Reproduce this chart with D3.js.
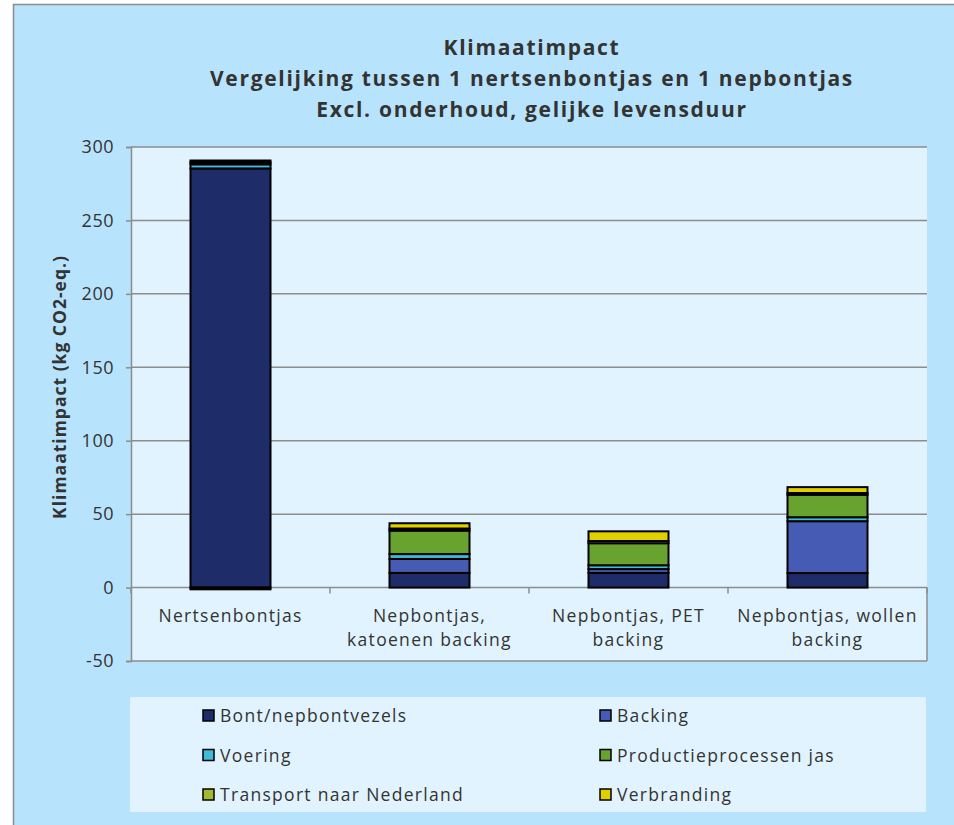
<!DOCTYPE html>
<html>
<head>
<meta charset="utf-8">
<script src="https://cdn.jsdelivr.net/npm/d3@7"></script>
<style>
  body { margin: 0; background: #fff; }
  svg { display: block; }
  text { font-family: "Open Sans", sans-serif; fill: #333; }
</style>
</head>
<body>
<div id="container"></div>
<script>
const width = 954
const height = 825

// data
const categories = [
    ['Nertsenbontjas'],
    ['Nepbontjas,', 'katoenen backing'],
    ['Nepbontjas, PET', 'backing'],
    ['Nepbontjas, wollen', 'backing']
]
const seriesNames = ['Bont/nepbontvezels', 'Backing', 'Voering', 'Productieprocessen jas', 'Transport naar Nederland', 'Verbranding']
const bont        = [285.4, 10, 10, 9.9]
const backing     = [0, 9.5, 2.6, 35.3]
const voering     = [2.8, 3.3, 2.6, 2.7]
const productie   = [1.3, 16, 15, 15.3]
const transport   = [1.3, 1.4, 1.5, 1.2]
const verbranding = [-1.2, 3.6, 6.6, 4]
const yTicks = [-50, 0, 50, 100, 150, 200, 250, 300]
const colors = ['#1f2c6a', '#465cb4', '#40bcd8', '#68a330', '#a5b832', '#e0d000']

const columns = [bont, backing, voering, productie, transport, verbranding]
const rows = categories.map((c, i) => {
    const row = { idx: i }
    seriesNames.forEach((s, j) => { row[s] = columns[j][i] })
    return row
})

const svg = d3.select('#container').append('svg')
    .attr('width', width)
    .attr('height', height)

// outer chart background
svg.append('rect')
    .attr('x', 13.5).attr('y', 4.5)
    .attr('width', width).attr('height', height)
    .attr('fill', '#b8e3fd')
    .attr('stroke', '#8c8c8c')
    .attr('stroke-width', 1.5)

const plot = { left: 131, right: 927, top: 147, bottom: 661 }

//----------------------------SCALES----------------------------//
const x = d3.scaleBand()
    .domain(d3.range(categories.length))
    .range([plot.left, plot.right])
const y = d3.scaleLinear().domain([-50, 300]).range([plot.bottom, plot.top])

svg.append('rect')
    .attr('x', plot.left).attr('y', plot.top)
    .attr('width', plot.right - plot.left).attr('height', plot.bottom - plot.top)
    .attr('fill', '#e1f3fe')

// grid
svg.append('g')
    .selectAll('line')
    .data(yTicks)
    .join('line')
    .attr('x1', plot.left).attr('x2', plot.right)
    .attr('y1', d => y(d)).attr('y2', d => y(d))
    .attr('stroke', '#8c8c8c')
    .attr('stroke-width', 1.5)

//-----------------------------AXES-----------------------------//
const yaxis = d3.axisLeft(y).tickValues(yTicks).tickSize(5).tickPadding(12)
    .tickFormat(d => String(d))
const gy = svg.append('g')
    .attr('transform', `translate(${plot.left},0)`)
    .call(yaxis)
gy.select('.domain').attr('stroke', '#8c8c8c').attr('stroke-width', 1.5)
gy.selectAll('.tick line').attr('stroke', '#8c8c8c').attr('stroke-width', 1.5)
gy.selectAll('.tick text')
    .style('font-size', '18px')
    .style('letter-spacing', '0.5px')
    .attr('font-family', '"Open Sans", sans-serif')
    .attr('fill', '#333')

// right edge below zero, as in the reference
svg.append('line')
    .attr('x1', plot.right).attr('x2', plot.right)
    .attr('y1', y(0)).attr('y2', plot.bottom)
    .attr('stroke', '#8c8c8c').attr('stroke-width', 1.5)

// category separators on the zero line
svg.append('g')
    .selectAll('line')
    .data(d3.range(categories.length + 1))
    .join('line')
    .attr('x1', d => plot.left + d * x.bandwidth())
    .attr('x2', d => plot.left + d * x.bandwidth())
    .attr('y1', y(0)).attr('y2', y(0) + 6)
    .attr('stroke', '#8c8c8c').attr('stroke-width', 1.5)

svg.append('text')
    .attr('transform', `translate(66,${(plot.top + plot.bottom) / 2 - 17}) rotate(-90)`)
    .attr('text-anchor', 'middle')
    .style('font-size', '17.5px')
    .style('letter-spacing', '1px')
    .style('font-weight', 'bold')
    .text('Klimaatimpact (kg CO2-eq.)')

// category labels
const catLabels = svg.append('g')
    .selectAll('text')
    .data(categories)
    .join('text')
    .attr('x', (d, i) => x(i) + x.bandwidth() / 2)
    .attr('y', y(0) + 34)
    .attr('text-anchor', 'middle')
    .style('font-size', '17.5px')
    .style('letter-spacing', '1.3px')
catLabels.selectAll('tspan')
    .data(d => d)
    .join('tspan')
    .attr('x', function () { return this.parentNode.getAttribute('x') })
    .attr('dy', (d, i) => i === 0 ? 0 : 24)
    .text(d => d)

//----------------------------BARS-----------------------------//
const stack = d3.stack().keys(seriesNames).offset(d3.stackOffsetDiverging)
const stacked = stack(rows)
const barW = 80

svg.append('g')
    .selectAll('g')
    .data(stacked)
    .join('g')
    .attr('fill', (d, i) => colors[i])
    .selectAll('rect')
    .data(d => d.filter(p => p[1] !== p[0]))
    .join('rect')
    .attr('x', d => x(d.data.idx) + x.bandwidth() / 2 - barW / 2)
    .attr('y', d => y(Math.max(d[0], d[1])))
    .attr('width', barW)
    .attr('height', d => Math.abs(y(d[0]) - y(d[1])))
    .attr('stroke', '#000')
    .attr('stroke-width', 2)

//---------------------------TITLE-----------------------------//
const titleLines = ['Klimaatimpact', 'Vergelijking tussen 1 nertsenbontjas en 1 nepbontjas', 'Excl. onderhoud, gelijke levensduur']
svg.append('g')
    .selectAll('text')
    .data(titleLines)
    .join('text')
    .attr('x', 532)
    .attr('y', (d, i) => 55 + i * 31)
    .attr('text-anchor', 'middle')
    .style('font-size', '21px')
    .style('letter-spacing', '1.7px')
    .style('font-weight', 'bold')
    .text(d => d)

//---------------------------LEGEND----------------------------//
svg.append('rect')
    .attr('x', 130).attr('y', 697)
    .attr('width', 796).attr('height', 115)
    .attr('fill', '#e1f3fe')

const legend = svg.append('g')
    .selectAll('g')
    .data(seriesNames)
    .join('g')
    .attr('transform', (d, i) => `translate(${i % 2 === 0 ? 203 : 600},${716 + Math.floor(i / 2) * 39.5})`)
legend.append('rect')
    .attr('x', 0).attr('y', -6)
    .attr('width', 11).attr('height', 11)
    .attr('fill', (d, i) => colors[i])
    .attr('stroke', '#000').attr('stroke-width', 1.5)
legend.append('text')
    .attr('x', 17).attr('y', 6)
    .style('font-size', '17.5px')
    .style('letter-spacing', '1.3px')
    .text(d => d)
</script>
</body>
</html>
